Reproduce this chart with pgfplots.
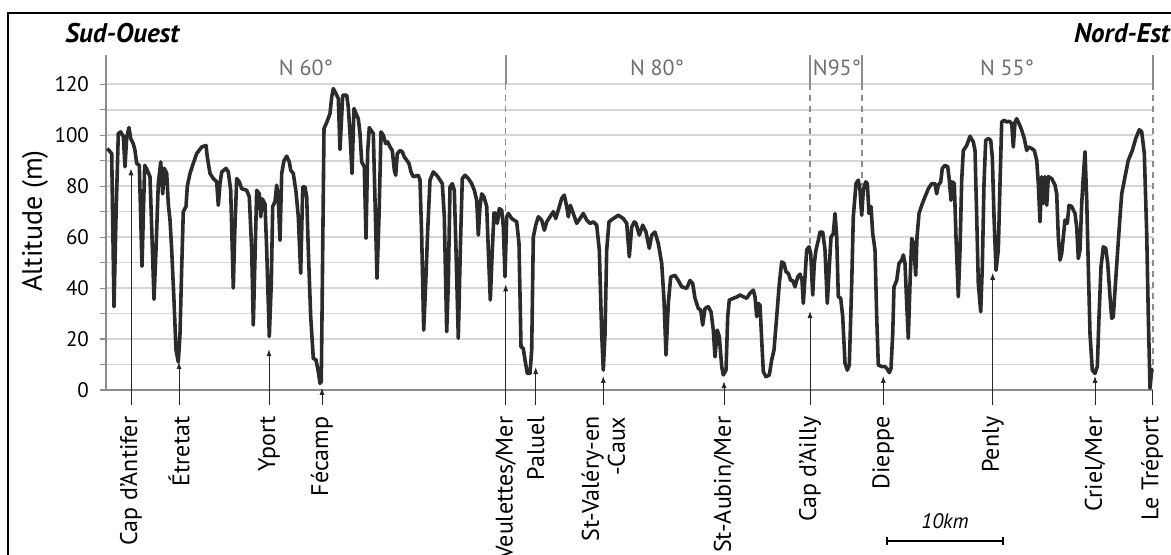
\documentclass[border=0pt]{standalone}
\usepackage{fontspec}
\setmainfont{PT Sans}
\usepackage{pgfplots}
\pgfplotsset{compat=1.18}
\usetikzlibrary{arrows.meta}
\definecolor{curve}{HTML}{2B2B2B}
\definecolor{axisgray}{HTML}{8C8C8C}
\definecolor{gridgray}{HTML}{D6D6D6}
\definecolor{secgray}{HTML}{6E6E6E}
\begin{document}
\begin{tikzpicture}
\useasboundingbox (0,0) rectangle (585.5pt,-277.5pt);
\draw[line width=1.1pt] (4pt,-6.5pt) rectangle (600pt,-300pt);
\node[anchor=base west,font=\fontsize{13.5}{15}\selectfont\bfseries\itshape,inner sep=0pt] at (32.5pt,-21.5pt) {Sud-Ouest};
\node[anchor=base east,font=\fontsize{13.5}{15}\selectfont\bfseries\itshape,inner sep=0pt] at (585pt,-21.5pt) {Nord-Est};
\node[rotate=90,font=\fontsize{14}{16}\selectfont] at (17.5pt,-110.5pt) {Altitude (m)};
\draw[line width=1pt,{Bar[width=4pt]}-{Bar[width=4pt]}] (443pt,-270.5pt) -- (502pt,-270.5pt);
\node[anchor=base,font=\fontsize{10.5}{12}\selectfont\itshape] at (472.5pt,-264pt) {10km};
\begin{axis}[
  at={(53pt,-195pt)}, anchor=south west,
  scale only axis, width=523.5pt, height=167.5pt,
  xmin=106, xmax=1153, ymin=0, ymax=131.5,
  clip=false,
  axis lines*=left,
  axis line style={draw=axisgray, line width=0.7pt},
  ytick={0,20,...,120}, minor ytick={10,30,...,110},
  ymajorgrids, yminorgrids,
  major grid style={gridgray, line width=0.8pt},
  minor grid style={gridgray, line width=0.8pt},
  tick align=outside, major tick length=3pt, minor tick length=3pt,
  tick style={axisgray, line width=0.6pt},
  /pgf/number format/assume math mode=true,
  yticklabel style={font=\fontsize{10.5}{12}\selectfont, xshift=-2pt},
  xtick={131,179,269,322,505.7,535.7,603.3,724,810,883.3,992.7,1095,1152},
  xticklabels={Cap d’Antifer,Étretat,Yport,Fécamp,Veulettes/Mer,Paluel,{St-Valéry-en\\-Caux},St-Aubin/Mer,Cap d’Ailly,Dieppe,Penly,Criel/Mer,Le Tréport},
  xtick style={draw=none},
  xticklabel shift=6.8pt,
  xticklabel style={rotate=90, anchor=east, align=right, font=\fontsize{12}{13}\selectfont},
]
% sector boundaries
\foreach \xx/\yy in {505.7/68, 810/55, 862/80, 1153/8}{
  \edef\tmp{\noexpand\draw[axisgray, line width=1pt] (axis cs:\xx,120) -- (axis cs:\xx,131.5);
  \noexpand\draw[axisgray, line width=0.6pt, dash pattern=on 3pt off 2.5pt] (axis cs:\xx,120) -- (axis cs:\xx,\yy);}\tmp
}
\node[anchor=base,text=secgray,font=\fontsize{11}{12}\selectfont] at (axis cs:306,123.3) {N 60°};
\node[anchor=base,text=secgray,font=\fontsize{11}{12}\selectfont] at (axis cs:657,123.3) {N 80°};
\node[anchor=base,text=secgray,font=\fontsize{11}{12}\selectfont] at (axis cs:837,123.3) {N95°};
\node[anchor=base,text=secgray,font=\fontsize{11}{12}\selectfont] at (axis cs:1007,123.3) {N 55°};
% location arrows
\foreach \xx/\yy in {131/87,179/11,269/16,322/0.8,505.7/41.5,535.7/9,603.3/5.5,724/3.5,810/31,883.3/5.5,992.7/46,1095/5.5}{
  \edef\tmp{\noexpand\draw[black!85, line width=0.5pt, -{Latex[length=3.5pt,width=2.6pt]}] (axis cs:\xx,-6) -- (axis cs:\xx,\yy);}\tmp
}
\draw[black!85, line width=0.5pt] (axis cs:1152,-6) -- (axis cs:1152,0);
\addplot[curve, line width=1.8pt, line join=round] table {
107.3 94.8
111.7 92.8
114 32.7
116 68
118.3 100.7
120.7 101.3
123.3 99.6
125 87.6
126.7 99.3
129 103
130.7 98.7
133.3 96.7
135 94
136.7 88.9
139.3 88.2
140.7 68
142 48.6
143.3 68
144.7 88.2
147.3 86.3
150 83.7
152 60
154 35.6
156 55
158.3 81
160.7 89.5
162.7 77
164.3 87
166.7 85
168.3 73
170 66.7
171.7 55
174 35
176 15.7
178.3 11
180 22
181.7 48
183.3 70
186 72
187.3 80
190 85
193.3 89
196.7 92.8
201.7 95.4
206 96
207.3 91.5
210 85
213.3 83
216.7 81.7
218.3 72.5
220 81
221.7 85.6
226 87
228.3 85.6
230.7 78.4
233.3 40
234.7 61
236.7 83
239.3 81.7
241.7 79
246.7 78.4
249.3 75.8
251.7 55
253.3 25.5
255 52
256.7 78.4
259.3 77
260.7 68
262.3 75
265 73
266.7 55
269.3 21
271.3 42
272.7 72
275 74
276.7 80.4
278.3 74.5
280 58.8
281.7 85
284 90
286.7 91.8
289.3 89.5
290.7 86.3
293.3 85
296 77.8
298.3 68
300.7 45.8
302.7 79.7
305 79.7
306.7 75.8
308.3 55
310.7 28.8
313.3 12.4
316 11.8
318.3 7.2
320 2.6
321.3 3.3
322.7 55
324 102.6
326.7 105
330 108.5
331.7 115
333.3 118.3
336 116.3
338.3 114.4
340 94.4
342.7 115.7
346.7 115.7
348.3 111
350 100.7
352 85
354 110.5
356 108.5
358.3 106.5
360 100.7
361.7 89.5
364.3 87.6
366 59.5
367.7 94
369.3 103
371 102
373.3 100.7
375 74.5
377 43.8
379 68
381 101.3
383.3 100
385.7 96.7
387.7 97.4
390 95.4
392.3 94
394.3 86.3
395.7 84.3
397.3 92.8
400 94
402.3 93.5
404.3 91.5
406.7 90.2
409 88.9
411 85.6
413.3 83.7
418.3 84.3
420 82.4
421.7 60
423.7 23.5
425.7 41.8
427.7 62.7
430 82.4
433.3 85.6
436.7 84.3
439 83
442.3 81
444.3 68
446.7 22.9
448.3 41.8
450 79.7
452.3 81
454.3 78.4
456 55
458.3 20.3
460.3 55
462.3 83
465 84.3
468.3 83
471.7 81
474.3 78.4
476.7 74.5
478.3 60.8
480 72
481.7 77
484 75.8
486.7 72
488.3 55
490.3 35.3
492.3 55
494 69.5
496 69.3
497.3 65.4
499.3 71.2
501.7 70.6
503.3 64
505 44.4
506.7 68
508.3 69.3
511.7 67.3
516.7 66
519 57.5
521 17
523.3 16.3
525 11.8
527.3 6.5
530 6.5
531.7 15.7
533.3 60
535.7 64.7
538.3 68
541.7 66.7
544.3 62.7
546.7 66
550 68
553.3 70
555.7 67.3
558.3 70.6
561.7 75.2
564.3 76.5
566.7 72
568.3 68
570.3 72.5
573.3 69.3
576.7 65.4
580 67.3
583.3 69.3
586.7 66.7
590 65.4
593.3 66
596.7 64.7
599.3 55
601.7 22
603.3 7.8
605 22
606.7 55
609 66
613.3 67.3
618.3 68.6
623.3 67.3
626.7 65.4
629.3 52.3
631.7 64
634.3 66
636 65.4
639.3 60.8
642.7 64.7
646 62
649.3 55.6
651.7 60.8
655 62
658.3 57.5
661.7 49.7
664 35.3
666 13.7
668.3 34
670.7 44.4
675 45
678.3 43
681.7 40.5
686.7 39.9
690 43
692.7 41.8
695 36
698.3 32
700.7 31.4
702.7 25.5
705 32
708.3 32.7
711 30.7
713.3 23.5
715 13
717.3 23.5
719.3 21
721.7 9.2
723.3 5.9
726 7.8
727.7 28.8
729.3 35.3
733.3 36
737.3 36.6
740 37.3
743.3 36.6
746.7 36
750 38
753.3 39.2
755 36.6
756.7 28.8
758.3 34
760 33.3
761.7 19.6
763.3 7.2
766 5.2
769.3 5.9
771.7 11.8
774 15.7
776.7 28.8
779.3 41.8
781.7 50.3
784 49.7
786 46.4
788.3 45.8
790.7 43
792.7 43
795 40.5
797.7 44.4
800 45.5
802 43
803.3 34
805 44.4
806.7 55
809 56.2
810.7 53.6
812.7 37.3
814.3 49.7
816 55
818.3 58.8
820 62
822.7 62
825 55
827.3 34
829.3 48.4
831 60
833.3 61.4
835 69.3
836.7 60
838.3 36.6
840.7 36
842.7 28.8
845 10.5
847.3 7.8
849.3 9.8
851.7 41.8
853.3 68
856 81
858.3 82.4
860 78.4
861.7 68.6
863.3 78.4
865.7 81.7
867.3 81
869 69.3
871 72
872.7 61.4
875 55
876.7 28.8
878.3 9.8
881.7 9.2
885 9.2
886.7 8.5
889.3 6.8
891 8.5
892.7 22
894 40.5
896.7 43
899 49.7
901.7 51
903.3 53
905 49.7
906.7 34
908.3 20.3
910 41.8
911.7 59.5
913.7 57.5
915.7 45
917 60
919 69.3
921.7 72.5
925 75.8
928.3 79
931.7 81
935 81
936.7 77
938.3 80.4
940.7 81.7
942.3 87
945 88.2
947.7 87.6
949.3 82.4
951 74.5
952.3 81.7
954.3 81
956 60
958.3 36.6
960 55
961.7 82.4
963.3 94
966.7 96
970 99.6
973.3 97.4
975 94
976.7 68
978.3 41.8
980.7 30.7
982.3 48.4
984 81
985.7 98
988.3 98.7
990.7 98
992.3 91.5
994 68
996 47
998.3 55
1000 81
1001.7 105.2
1004.3 105.9
1006.7 105.2
1009.3 105.5
1011.7 104.6
1013.3 95.4
1015 105.2
1016.7 106.5
1019 104.6
1021.7 102
1024.3 98.7
1026.7 94
1028.3 95.4
1031.7 94.8
1034.3 94
1036.7 90.2
1038.3 81
1040 66
1041.7 83.7
1043.3 73.2
1045 83.7
1046.7 72.5
1048.3 83.7
1051.7 83
1055 80.4
1056.7 77
1058.3 60
1060 51
1061.7 53.6
1065 66.7
1067.3 65.4
1069 72.5
1071.7 72
1075 69.3
1076.7 64
1078.3 51.6
1080 55
1081.7 73.2
1083.3 83.7
1085 93.5
1086.7 74.5
1088.3 48.4
1090 22
1092.3 7.8
1095 6.5
1097.3 9.2
1099 28.8
1101 48.4
1103.3 56.2
1105.7 55.6
1107.7 49.7
1110 36.6
1111.7 28.1
1113.3 28.8
1115 39.2
1117.7 55
1120 68
1121.7 77
1125 83.7
1128.3 90.2
1132.3 94
1135.7 98.7
1139.3 102.2
1141.7 101.3
1144.3 92.8
1146.7 61.4
1148.3 28.8
1150 0.7
1151.7 7.8
1153.3 8.1
};
\end{axis}
\end{tikzpicture}
\end{document}
